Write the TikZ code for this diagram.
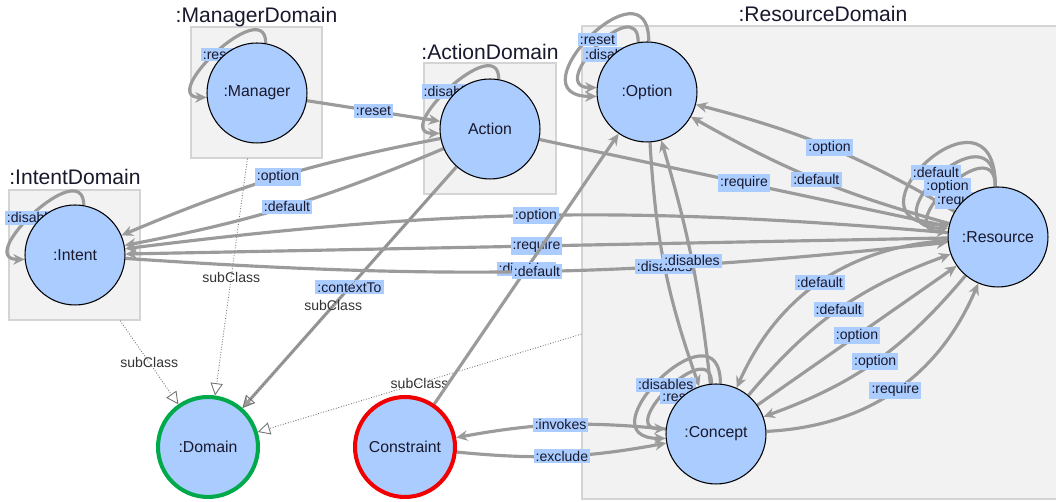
\documentclass[tikz,border=0pt]{standalone}
\usepackage{fontspec}
\setmainfont{Liberation Sans}
\usetikzlibrary{arrows.meta,calc}
\definecolor{objfill}{RGB}{170,204,255}
\definecolor{tagfill}{RGB}{170,204,255}
\definecolor{linkgray}{RGB}{155,155,155}
\definecolor{boxfill}{RGB}{242,242,242}
\definecolor{boxedge}{RGB}{212,212,212}
\definecolor{ink}{RGB}{25,25,45}
\definecolor{domgreen}{RGB}{0,170,75}
\definecolor{cstred}{RGB}{240,0,0}
\pgfdeclarelayer{boxes}
\pgfdeclarelayer{links}
\pgfsetlayers{boxes,links,main}

\begin{document}
\begin{tikzpicture}[x=0.02cm,y=0.02cm,
    obj/.style={circle,draw=black,line width=0.6pt,fill=objfill,minimum size=2cm,inner sep=0pt,text=ink,font=\fontsize{9}{10}\selectfont},
    dombox/.style={draw=boxedge,fill=boxfill,line width=0.8pt,inner sep=0pt},
    domtitle/.style={anchor=base,inner sep=0pt,text=ink,font=\fontsize{12}{14}\selectfont},
    rel/.style={draw=linkgray,line width=1.8pt,-{Stealth[length=6.5pt,width=6pt]}},
    lbl/.style={fill=tagfill,text=ink,inner sep=1.2pt,font=\fontsize{8}{9}\selectfont},
    sub/.style={draw=black!55,densely dotted,line width=0.5pt,-{Triangle[open,length=7pt,width=7pt]}},
    sublbl/.style={inner sep=1pt,text=black!80,font=\fontsize{8}{9}\selectfont}]
  \useasboundingbox (0,0) rectangle (1056,502);

  % domain boxes
  \begin{pgfonlayer}{boxes}
    \node[dombox,minimum width=2.62cm,minimum height=2.62cm] (mgrdom) at (256.5,409.5) {};
    \node[dombox,minimum width=2.64cm,minimum height=2.62cm] (actdom) at (490,373.5) {};
    \node[dombox,minimum width=2.62cm,minimum height=2.6cm] (intdom) at (74.5,247) {};
    \node[dombox,minimum width=9.52cm,minimum height=9.46cm] (resdom) at (820,239.5) {};
  \end{pgfonlayer}
  \node[domtitle] (mgrtitle) at (256.5,479) {:ManagerDomain};
  \node[domtitle] (acttitle) at (490,442) {:ActionDomain};
  \node[domtitle] (inttitle) at (75,317) {:IntentDomain};
  \node[domtitle] (restitle) at (823,480) {:ResourceDomain};

  % objects
  \node[obj] (mgr) at (257,409) {:Manager};
  \node[obj] (act) at (490,373) {Action};
  \node[obj] (int) at (75,247) {:Intent};
  \node[obj] (opt) at (647,410) {:Option};
  \node[obj] (res) at (998,265) {:Resource};
  \node[obj] (con) at (716,68) {:Concept};
  \node[obj,draw=domgreen,line width=2.3pt] (dom) at (208,55) {:Domain};
  \node[obj,draw=cstred,line width=2.3pt] (cst) at (405,55) {Constraint};

  \begin{pgfonlayer}{links}
    % subclass links
    \draw[sub] (intdom) -- node[sublbl] {subClass} (dom);
    \draw[sub] (mgrdom) -- node[sublbl] {subClass} (dom);
    \draw[sub] (resdom) -- node[sublbl] {subClass} (dom);
    \draw[rel] (act) -- node[lbl] {:contextTo} (dom);
    \draw[sub] (actdom) -- node[sublbl,pos=.52] {subClass} (dom);

    % long links
    \draw[rel] (res) to[bend right=6] node[lbl] {:option} (int);
    \draw[rel] (res) -- node[lbl] {:require} (int);
    \draw[rel] (cst) -- node[lbl] {:disables} (opt);
    \draw[rel] (int) to[bend right=5] node[lbl] {:default} (res);
    \draw[rel] (act) to[bend right=6] node[lbl] {:option} (int);
    \draw[rel] (act) to[bend left=6] node[lbl] {:default} (int);
    \draw[rel] (act) -- node[lbl] {:require} (res);
    \draw[rel] (mgr) -- node[lbl] {:reset} (act);
    \draw[rel] (res) to[bend right=8] node[lbl] {:option} (opt);
    \draw[rel] (res) to[bend left=7] node[lbl] {:default} (opt);
    \draw[rel] (opt) to[bend right=8] node[lbl] {:disables} (con);
    \draw[rel] (con) to[bend right=5] node[lbl] {:disables} (opt);
    \draw[rel] (con) to[bend right=8] node[lbl] {:invokes} (cst);
    \draw[rel] (cst) to[bend right=8] node[lbl] {:exclude} (con);

    % concept and resource
    \draw[rel] (res) to[bend right=31] node[lbl] {:default} (con);
    \draw[rel] (con) to[bend left=15] node[lbl] {:default} (res);
    \draw[rel] (con) -- node[lbl] {:option} (res);
    \draw[rel] (res) to[bend left=15] node[lbl] {:option} (con);
    \draw[rel] (con) to[bend right=32] node[lbl] {:require} (res);

    % self loops
    \draw[rel] (mgr.80) .. controls ($(mgr.80)+(0,50)$) and ($(mgr.185)+(-50,0)$) .. node[lbl,shift={(3,-3)}] {:reset} (mgr.185);
    \draw[rel] (act.80) .. controls ($(act.80)+(0,50)$) and ($(act.185)+(-50,0)$) .. node[lbl,shift={(1,-4)}] {:disables} (act.185);
    \draw[rel] (int.80) .. controls ($(int.80)+(0,52)$) and ($(int.185)+(-52,0)$) .. node[lbl,shift={(0,-5)}] {:disables} (int.185);
    \draw[rel] (opt.100) .. controls ($(opt.100)+(0,52)$) and ($(opt.175)+(-52,0)$) .. node[lbl,shift={(15,-9)}] {:disables} (opt.175);
    \draw[rel] (opt.88) .. controls ($(opt.88)+(0,86)$) and ($(opt.185)+(-86,0)$) .. node[lbl,shift={(7,-3)}] {:reset} (opt.185);
    \draw[rel] (res.93) .. controls ($(res.93)+(0,60)$) and ($(res.174)+(-60,0)$) .. node[lbl,shift={(12,-14)}] {:require} (res.174);
    \draw[rel] (res.93) .. controls ($(res.93)+(0,86)$) and ($(res.170)+(-86,0)$) .. node[lbl,shift={(8,-12)}] {:option} (res.170);
    \draw[rel] (res.93) .. controls ($(res.93)+(0,118)$) and ($(res.166)+(-118,0)$) .. node[lbl,shift={(8,-11)}] {:default} (res.166);
    \draw[rel] (con.95) .. controls ($(con.95)+(0,50)$) and ($(con.174)+(-50,0)$) .. node[lbl,shift={(10,-10)}] {:reset} (con.174);
    \draw[rel] (con.85) .. controls ($(con.85)+(0,86)$) and ($(con.185)+(-86,0)$) .. node[lbl,shift={(5,-6)}] {:disables} (con.185);
  \end{pgfonlayer}
\end{tikzpicture}
\end{document}
